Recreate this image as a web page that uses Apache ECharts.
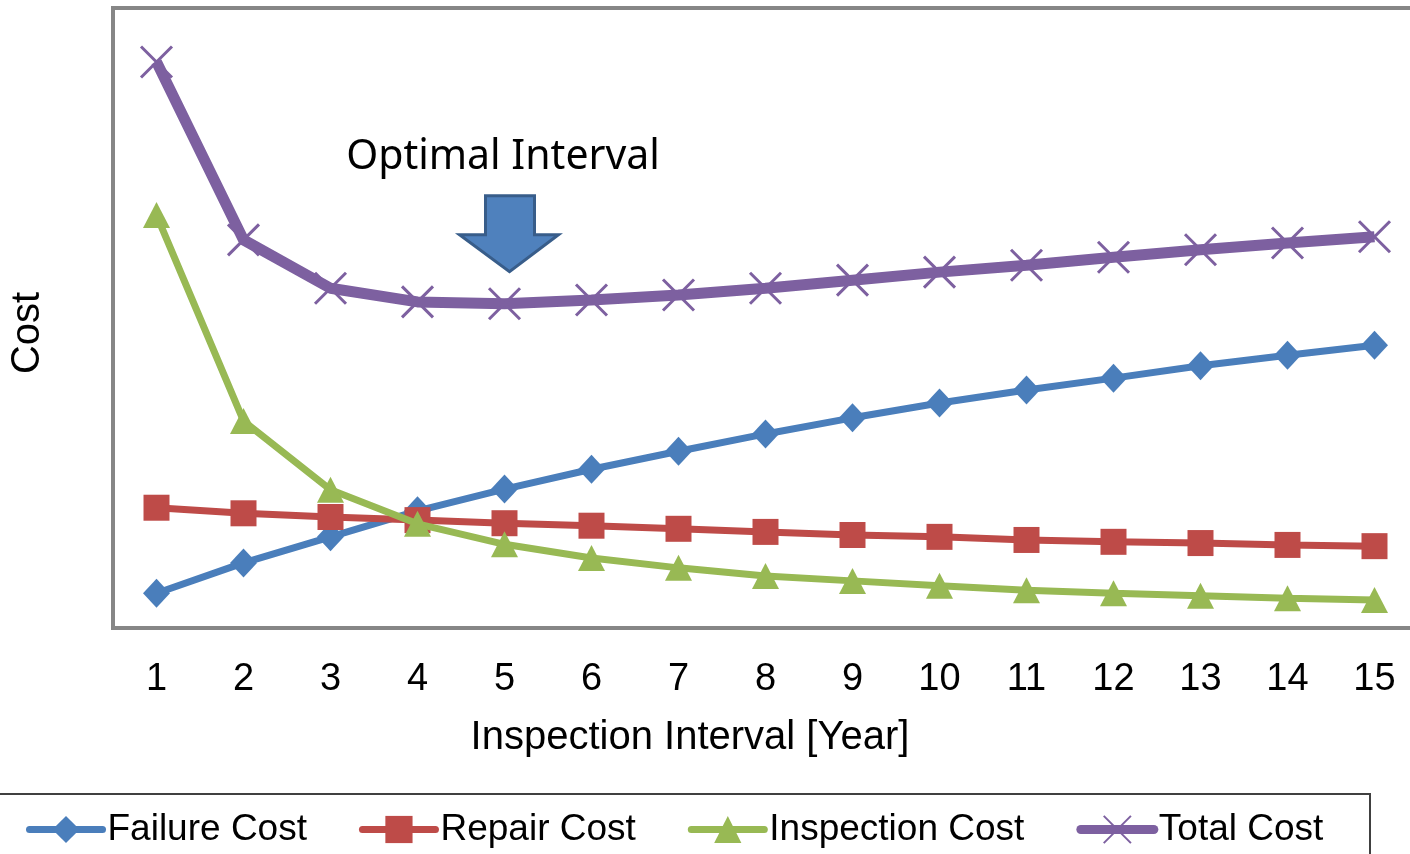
<!DOCTYPE html>
<html><head><meta charset="utf-8">
<script src="https://cdn.jsdelivr.net/npm/echarts@6/dist/echarts.min.js"></script>
<style>html,body{margin:0;padding:0;background:#fff}#c{width:1410px;height:854px}</style>
</head><body><div id="c"></div>
<script>
const categories = ['1','2','3','4','5','6','7','8','9','10','11','12','13','14','15'];
const failureCost = [5.6,10.5,14.7,18.9,22.4,25.6,28.5,31.3,33.9,36.3,38.4,40.3,42.3,44.0,45.6];
const repairCost = [19.4,18.5,17.9,17.4,16.9,16.5,16.0,15.5,15.0,14.7,14.2,13.9,13.7,13.4,13.2];
const inspectionCost = [66.6,33.4,22.3,16.8,13.5,11.3,9.7,8.4,7.6,6.8,6.1,5.6,5.2,4.8,4.5];
const totalCost = [91.3,62.6,54.8,52.6,52.3,52.9,53.7,54.8,56.1,57.4,58.5,59.8,61.0,62.1,63.1];
const optimalIndex = 4;

const chart = echarts.init(document.getElementById('c'));
const font = 'Liberation Sans, Arial, sans-serif';
const xSym = 'path://M0,0L10,10M10,0L0,10';
chart.setOption({
  animation:false,
  grid:{left:113,top:8,width:1305,height:620,outerBoundsMode:'none',containLabel:false,show:true,borderColor:'#868686',borderWidth:4,backgroundColor:'#fff'},
  xAxis:{type:'category',data:categories,boundaryGap:true,
    axisLine:{lineStyle:{color:'#868686',width:4}},
    axisTick:{inside:true,length:9,lineStyle:{color:'#000',width:1.5}},
    axisLabel:{color:'#000',fontSize:38,fontFamily:font,margin:33}},
  yAxis:{type:'value',min:0,max:100,show:false,splitLine:{show:false}},
  legend:{left:26,top:811,padding:0,itemWidth:73,itemHeight:34,itemGap:52,
    textStyle:{fontSize:37,fontFamily:font,color:'#000'},
    data:[
      {name:'Failure Cost',lineStyle:{width:7,cap:'round'}},
      {name:'Repair Cost',lineStyle:{width:7,cap:'round'}},
      {name:'Inspection Cost',lineStyle:{width:7,cap:'round'}},
      {name:'Total Cost',lineStyle:{width:9,cap:'round'}}
    ]},
  series:[
    {name:'Failure Cost',type:'line',data:failureCost,symbol:'diamond',symbolSize:[27,29],
     lineStyle:{color:'#4A7EBB',width:7},itemStyle:{color:'#4A7EBB'},z:3},
    {name:'Repair Cost',type:'line',data:repairCost,symbol:'rect',symbolSize:26,
     lineStyle:{color:'#BE4B48',width:7},itemStyle:{color:'#BE4B48'},z:3},
    {name:'Inspection Cost',type:'line',data:inspectionCost,symbol:'triangle',symbolSize:[27,26],
     lineStyle:{color:'#98B954',width:7},itemStyle:{color:'#98B954'},z:4},
    {name:'Total Cost',type:'line',data:totalCost,symbol:xSym,symbolSize:31,
     lineStyle:{color:'#7D60A0',width:11},itemStyle:{color:'#7D60A0',borderColor:'#7D60A0',borderWidth:3},z:2}
  ]
});
const p = chart.convertToPixel({xAxisIndex:0,yAxisIndex:0},[optimalIndex,totalCost[optimalIndex]]);
const cx = p[0]+5, tip = p[1]-32;
chart.setOption({graphic:[
  {type:'rect',shape:{x:-5,y:794,width:1375,height:100},style:{fill:'none',stroke:'#404040',lineWidth:2},z:0,silent:true},
  {type:'polygon',shape:{points:[[cx-24,tip-76],[cx+25,tip-76],[cx+25,tip-37],[cx+49,tip-37],[cx,tip],[cx-50,tip-37],[cx-24,tip-37]]},
   style:{fill:'#4F81BD',stroke:'#385D8A',lineWidth:3},z:10},
  {type:'text',x:503,y:157,style:{text:'Optimal Interval',fontSize:41,fontFamily:'Noto Sans, sans-serif',fill:'#000',align:'center',verticalAlign:'middle'},z:10},
  {type:'text',x:690,y:738,style:{text:'Inspection Interval [Year]',fontSize:40,fontFamily:font,fill:'#000',align:'center',verticalAlign:'middle'},z:10},
  {type:'text',x:28,y:333,rotation:Math.PI/2,style:{text:'Cost',fontSize:40,fontFamily:font,fill:'#000',align:'center',verticalAlign:'middle'},z:10}
]});
</script></body></html>
